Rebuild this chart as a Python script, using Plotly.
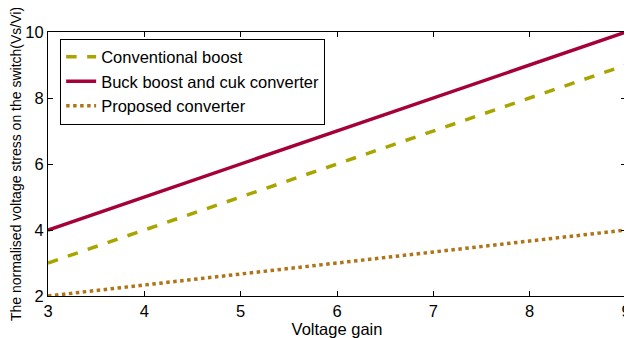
import plotly.graph_objects as go

voltage_gain = [3, 4, 5, 6, 7, 8, 9]
conventional_boost = [3, 4, 5, 6, 7, 8, 9]
buck_boost_cuk = [4, 5, 6, 7, 8, 9, 10]
proposed = [2.0, 2.333, 2.667, 3.0, 3.333, 3.667, 4.0]

fig = go.Figure()
fig.add_trace(go.Scatter(x=voltage_gain, y=conventional_boost, mode="lines",
                         name="Conventional boost",
                         line=dict(color="#a8a400", width=3.5, dash="dash")))
fig.add_trace(go.Scatter(x=voltage_gain, y=buck_boost_cuk, mode="lines",
                         name="Buck boost and cuk converter",
                         line=dict(color="#a6003a", width=3.5)))
fig.add_trace(go.Scatter(x=voltage_gain, y=proposed, mode="lines",
                         name="Proposed converter",
                         line=dict(color="#b07418", width=3.5, dash="dot")))

FONT = "Liberation Sans, Arial, sans-serif"
axis_common = dict(showline=True, linecolor="black", linewidth=1.2, mirror="ticks",
                   ticks="inside", ticklen=5, tickcolor="black", showgrid=False,
                   zeroline=False, automargin=False, ticklabeloverflow="allow",
                   tickfont=dict(family=FONT, size=16.5, color="black"))

# page body has an 8px default margin, so the figure is sized to fit inside it
fig.update_layout(
    width=624, height=330,
    margin=dict(l=40, r=6, t=24, b=42),
    paper_bgcolor="white", plot_bgcolor="white",
    font=dict(family=FONT, color="black"),
    xaxis=dict(range=[3, 9], tickvals=[3, 4, 5, 6, 7, 8, 9],
               title=dict(text="Voltage gain", font=dict(size=16.5), standoff=3), **axis_common),
    yaxis=dict(range=[2, 10], tickvals=[2, 4, 6, 8, 10],
               title=dict(text="The normalised voltage stress on the switch(Vs/Vi)", font=dict(size=14), standoff=2),
               **axis_common),
    legend=dict(x=0.021, y=0.975, xanchor="left", yanchor="top",
                bgcolor="white", bordercolor="black", borderwidth=1,
                font=dict(size=16.5, color="black"), itemwidth=30,
                tracegroupgap=0),
    showlegend=True,
)

fig.write_html("out.html")
